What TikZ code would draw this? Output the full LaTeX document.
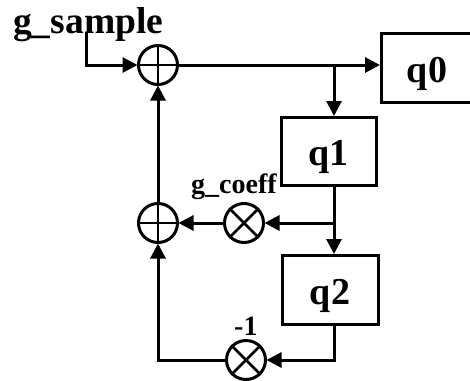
\documentclass[tikz,border=0pt]{standalone}
\usepackage{fontspec}
\setmainfont{Liberation Serif}
\usetikzlibrary{arrows.meta,calc}
\tikzset{
  wire/.style={line width=3pt,draw=black},
  arrowwire/.style={wire,-{Triangle[length=15pt,width=15pt]},shorten >=-0.5pt},
  regbox/.style={draw=black,line width=3pt,fill=white,inner sep=0pt,text height=29pt,text depth=0pt,font=\fontsize{38}{38}\selectfont\bfseries},
  opcircle/.style={circle,draw=black,line width=3pt,minimum size=39pt,inner sep=0pt},
  biglabel/.style={font=\fontsize{37.5}{38}\selectfont\bfseries,inner sep=0pt,anchor=base west},
  smalllabel/.style={font=\fontsize{28}{28}\selectfont\bfseries,inner sep=0pt,anchor=base west}
}
\begin{document}
\begin{tikzpicture}[x=1pt,y=-1pt]
\useasboundingbox (0,0) rectangle (470,380);
% operators
\node[opcircle] (sumtop) at (158,65) {};
\node[opcircle] (sumbot) at (158,223) {};
\node[opcircle] (multa) at (244,223) {};
\node[opcircle] (multb) at (246,360) {};
\draw[wire,line width=2.5pt] (sumtop.west) -- (sumtop.east) (sumtop.north) -- (sumtop.south);
\draw[wire,line width=2.5pt] (sumbot.west) -- (sumbot.east) (sumbot.north) -- (sumbot.south);
\draw[wire,line width=2.5pt] (multa.north west) -- (multa.south east) (multa.north east) -- (multa.south west);
\draw[wire,line width=2.5pt] (multb.north west) -- (multb.south east) (multb.north east) -- (multb.south west);
% registers
\node[regbox,minimum width=92pt,minimum height=69pt] (q0) at (427,67.5) {q0};
\node[regbox,minimum width=95pt,minimum height=68pt] (q1) at (328.5,151) {q1};
\node[regbox,minimum width=96pt,minimum height=69pt] (q2) at (330,289.5) {q2};
% labels
\node[biglabel] (gsample) at (13,33) {g\_sample};
\node[smalllabel] (gcoeff) at (191,193) {g\_coeff};
\node[smalllabel] (minus) at (234,335) {-1};
% junctions
\coordinate (start) at (86,33);
\coordinate (jtop) at (334,65);
\coordinate (jmid) at (334,223);
% connectors
\draw[arrowwire] (start) |- (sumtop.west);
\draw[arrowwire] (sumtop.east) -- (q0.west |- sumtop.east);
\draw[arrowwire] (jtop) -- (jtop |- q1.north);
\draw[wire] (jtop |- q1.south) -- (jmid);
\draw[arrowwire] (jmid) -- (multa.east);
\draw[arrowwire] (jmid) -- (jmid |- q2.north);
\draw[arrowwire] (multa.west) -- (sumbot.east);
\draw[arrowwire] (sumbot.north) -- (sumtop.south);
\draw[arrowwire] (q2.south -| jmid) |- (multb.east);
\draw[arrowwire] (multb.west) -| (sumbot.south);
\end{tikzpicture}
\end{document}
